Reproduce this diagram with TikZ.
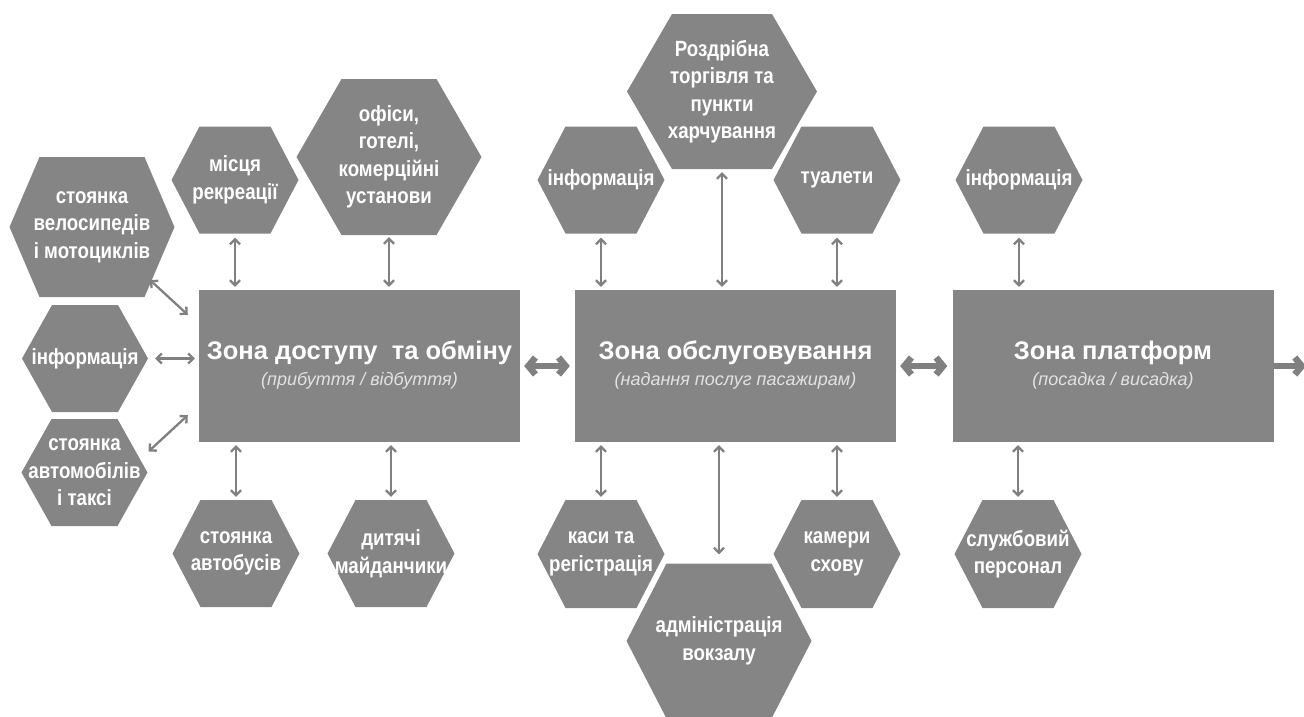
\documentclass[tikz,border=0pt]{standalone}
\usepackage{fontspec}
\setmainfont{Liberation Sans}
\newfontfamily\hexfont[FakeStretch=0.85]{Liberation Sans}
\usetikzlibrary{arrows.meta,calc}
\definecolor{boxgray}{HTML}{858585}
\definecolor{linegray}{HTML}{808080}
\definecolor{subgray}{HTML}{E2E2E2}
\tikzset{
  hexa/.style n args={3}{minimum width=#1pt, minimum height=#2pt, inner sep=0pt,
    text=white, align=center, font=\hexfont\fontsize{22}{27.5}\selectfont\bfseries,
    path picture={\fill[boxgray] (path picture bounding box.west)
      -- ($(path picture bounding box.north west)+(#3,0)$)
      -- ($(path picture bounding box.north east)+(-#3,0)$)
      -- (path picture bounding box.east)
      -- ($(path picture bounding box.south east)+(-#3,0)$)
      -- ($(path picture bounding box.south west)+(#3,0)$) -- cycle;}},
  zone/.style={fill=boxgray, minimum width=321pt, minimum height=152pt, inner sep=0pt},
  ztitle/.style={text=white, font=\fontsize{25.5}{30}\selectfont\bfseries, anchor=base, inner sep=0pt},
  zsub/.style={text=subgray, font=\fontsize{18}{22}\selectfont\itshape, anchor=base, inner sep=0pt},
  link/.style={draw=linegray, line width=2.3pt, {Straight Barb[length=5pt,width=10pt]}-{Straight Barb[length=5pt,width=10pt]}},
  biglink/.style={draw=linegray, line width=6.5pt, {Straight Barb[length=7pt,width=17pt]}-{Straight Barb[length=7pt,width=17pt]}},
  outlink/.style={draw=linegray, line width=6.5pt, -{Straight Barb[length=7pt,width=17pt]}}
}
\begin{document}
\begin{tikzpicture}[x=1pt,y=-1pt]
\useasboundingbox (0,0) rectangle (1304,716);

% zones
\node[zone] (b1) at (359.5,366) {};
\node[zone] (b2) at (735.5,366) {};
\node[zone] (b3) at (1113,366) {};
\node[ztitle] (t1) at ($(b1.center)+(0,-7)$) {Зона доступу\ \ та обміну};
\node[zsub] (s1) at ($(b1.center)+(0,19)$) {(прибуття / відбуття)};
\node[ztitle] (t2) at ($(b2.center)+(0,-7)$) {Зона обслуговування};
\node[zsub] (s2) at ($(b2.center)+(0,19)$) {(надання послуг пасажирам)};
\node[ztitle] (t3) at ($(b3.center)+(0,-7)$) {Зона платформ};
\node[zsub] (s3) at ($(b3.center)+(0,19)$) {(посадка / висадка)};

% left column
\node[hexa={165}{140}{30}] (hb) at (92,227) {стоянка\\велосипедів\\і мотоциклів};
\node[hexa={126}{107}{30}] (hi1) at (85,358.5) {інформація};
\node[hexa={126}{107}{30}] (hc) at (84.5,472.5) {стоянка\\автомобілів\\і таксі};

% zone 1 top / bottom
\node[hexa={127}{107}{28}] (hm) at (235,180) {місця\\рекреації};
\node[hexa={185}{156}{45}] (ho) at (389,157) {офіси,\\готелі,\\комерційні\\установи};
\node[hexa={127}{107}{28}] (hbus) at (236,553.5) {стоянка\\автобусів};
\node[hexa={127}{107}{28}] (hk) at (391,553.5) {дитячі\\майданчики};

% zone 2 top / bottom
\node[hexa={127}{107}{28}] (hi2) at (601,180) {інформація};
\node[hexa={190}{155}{45}] (hr) at (722,91.5) {Роздрібна\\торгівля та\\пункти\\харчування};
\node[hexa={127}{107}{28}] (ht) at (837,180) {туалети};
\node[hexa={127}{108}{28}] (hka) at (601,554) {каси та\\регістрація};
\node[hexa={185}{155}{40}] (had) at (719,641) {адміністрація\\вокзалу};
\node[hexa={127}{108}{28}] (hcam) at (837,554) {камери\\схову};

% zone 3 top / bottom
\node[hexa={127}{107}{28}] (hi3) at (1019,180) {інформація};
\node[hexa={127}{108}{28}] (hs) at (1018,554) {службовий\\персонал};

% connectors: left
\draw[link] ($(hb.center)+(58,53)$) -- ($(b1.north west)+(-11,25)$);
\draw[link, shorten <=7pt, shorten >=4pt] (hi1.east) -- (hi1.east -| b1.west);
\draw[link] ($(hc.center)+(64,-21)$) -- ($(b1.south west)+(-11,-27)$);

% connectors: vertical
\draw[link, shorten <=4pt, shorten >=3pt] (hm.south) -- (hm.south |- b1.north);
\draw[link, shorten <=2pt, shorten >=3pt] (ho.south) -- (ho.south |- b1.north);
\draw[link, shorten <=3pt, shorten >=3pt] (hbus.north) -- (hbus.north |- b1.south);
\draw[link, shorten <=3pt, shorten >=3pt] (hk.north) -- (hk.north |- b1.south);

\draw[link, shorten <=4pt, shorten >=3pt] (hi2.south) -- (hi2.south |- b2.north);
\draw[link, shorten <=3pt, shorten >=3pt] (hr.south) -- (hr.south |- b2.north);
\draw[link, shorten <=4pt, shorten >=3pt] (ht.south) -- (ht.south |- b2.north);
\draw[link, shorten <=3pt, shorten >=3pt] (hka.north) -- (hka.north |- b2.south);
\draw[link, shorten <=9pt, shorten >=3pt] (had.north) -- (had.north |- b2.south);
\draw[link, shorten <=3pt, shorten >=3pt] (hcam.north) -- (hcam.north |- b2.south);

\draw[link, shorten <=4pt, shorten >=3pt] (hi3.south) -- (hi3.south |- b3.north);
\draw[link, shorten <=3pt, shorten >=3pt] (hs.north) -- (hs.north |- b3.south);

% big arrows
\draw[biglink, shorten <=4pt, shorten >=5pt] (b1.east) -- (b2.west);
\draw[biglink, shorten <=4pt, shorten >=5pt] (b2.east) -- (b3.west);
\coordinate (out) at (1306,366);
\draw[outlink] (b3.east) -- (out);
\end{tikzpicture}
\end{document}
